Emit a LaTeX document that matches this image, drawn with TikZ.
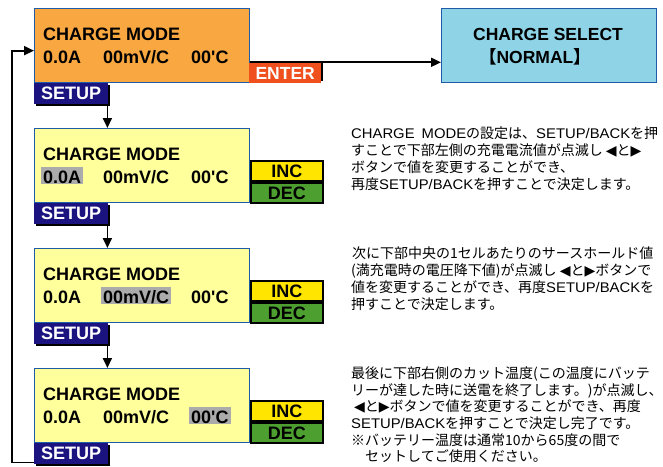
\documentclass[tikz,border=0pt]{standalone}
\usepackage{fontspec}
\setmainfont{Liberation Sans}[Ligatures=TeXOff]
\newfontfamily\jpfont{Noto Sans CJK JP}
\newfontfamily\latfont{Liberation Sans}[FakeStretch=1.06]
\newfontfamily\symfont{DejaVu Sans}
\usetikzlibrary{arrows.meta,calc,shadows}
\newcommand\Lt[1]{{\latfont #1}}
\newcommand\Tl{{\symfont\fontsize{14}{14}\selectfont ◀}}
\newcommand\Tr{{\symfont\fontsize{14}{14}\selectfont ▶}}
\definecolor{orangebox}{HTML}{F9A741}
\definecolor{yellowbox}{HTML}{FFFF9C}
\definecolor{bluebox}{HTML}{8ED3E6}
\definecolor{edgeblue}{HTML}{1F5CA8}
\definecolor{incyellow}{HTML}{FFE500}
\definecolor{decgreen}{HTML}{4DA02F}
\definecolor{navybox}{HTML}{1B1480}
\definecolor{enterred}{HTML}{F0501E}
\definecolor{hlgray}{HTML}{ABABAB}
\tikzset{
  lcd/.style={draw=edgeblue, line width=1.3pt, minimum width=215pt, minimum height=74pt, inner sep=0pt, anchor=north west},
  lbl/.style={font=\fontsize{18}{18}\selectfont\bfseries, anchor=base west, inner sep=0pt},
  hl/.style={lbl, fill=hlgray, inner xsep=2pt, inner ysep=0pt, text height=16pt, text depth=1pt},
  keybox/.style={draw=black, line width=1.6pt, minimum width=72pt, minimum height=20pt, inner sep=0pt, font=\fontsize{18}{18}\selectfont\bfseries, anchor=north west},
  setupbox/.style={fill=navybox, text=white, minimum width=74pt, minimum height=21pt, inner sep=0pt, font=\fontsize{18}{18}\selectfont\bfseries, anchor=north west, drop shadow={shadow xshift=2pt, shadow yshift=-2pt, fill=black, opacity=1}},
  enterbox/.style={fill=enterred, text=white, minimum width=72pt, minimum height=20pt, inner sep=0pt, font=\fontsize{17.5}{17.5}\selectfont\bfseries, anchor=north west, drop shadow={shadow xshift=2pt, shadow yshift=2pt, fill=black, opacity=1}},
  arr/.style={line width=1.8pt, -{Triangle[length=10pt,width=9pt]}},
  rt/.style={font=\jpfont\fontsize{14}{14}\selectfont, anchor=base west, inner sep=0pt},
}
\begin{document}
\begin{tikzpicture}[x=1pt,y=-1pt]
\useasboundingbox (0,0) rectangle (663,466);
% ---- Box 1 (orange)
\node[lcd, fill=orangebox] (b1) at (34,8) {};
\node[lbl] (b1t) at (43,40) {CHARGE MODE};
\node[lbl] (b1a) at (43,63) {0.0A};
\node[lbl] (b1v) at (103,63) {00mV/C};
\node[lbl] (b1c) at (191,63) {00'C};
\node[enterbox] (enter) at (249,63) {ENTER};
\node[setupbox] (s1) at (34,83) {SETUP};
% ---- Charge select
\node[lcd, fill=bluebox] (sel) at (441,8) {};
\node[font=\fontsize{17.5}{17.5}\selectfont\bfseries, anchor=base, inner sep=0pt] (selt) at (548,40) {CHARGE SELECT};
\node[font=\fontsize{17.5}{17.5}\selectfont\bfseries, anchor=base, inner sep=0pt] (seln) at (535,63) {{\jpfont 【}NORMAL{\jpfont 】}};
% ---- Box 2
\node[lcd, fill=yellowbox] (b2) at (34,128) {};
\node[lbl] (b2t) at (43,160) {CHARGE MODE};
\node[hl] (b2a) at (41,183) {0.0A};
\node[lbl] (b2v) at (103,183) {00mV/C};
\node[lbl] (b2c) at (191,183) {00'C};
\node[keybox, fill=incyellow] (inc2) at (250,160) {INC};
\node[keybox, fill=decgreen] (dec2) at (250,182) {DEC};
\node[setupbox] (s2) at (34,203) {SETUP};
% ---- Box 3
\node[lcd, fill=yellowbox] (b3) at (34,248) {};
\node[lbl] (b3t) at (43,280) {CHARGE MODE};
\node[lbl] (b3a) at (43,303) {0.0A};
\node[hl] (b3v) at (101,303) {00mV/C};
\node[lbl] (b3c) at (191,303) {00'C};
\node[keybox, fill=incyellow] (inc3) at (250,280) {INC};
\node[keybox, fill=decgreen] (dec3) at (250,302) {DEC};
\node[setupbox] (s3) at (34,323) {SETUP};
% ---- Box 4
\node[lcd, fill=yellowbox] (b4) at (34,368) {};
\node[lbl] (b4t) at (43,400) {CHARGE MODE};
\node[lbl] (b4a) at (43,423) {0.0A};
\node[lbl] (b4v) at (103,423) {00mV/C};
\node[hl] (b4c) at (189,423) {00'C};
\node[keybox, fill=incyellow] (inc4) at (250,400) {INC};
\node[keybox, fill=decgreen] (dec4) at (250,422) {DEC};
\node[setupbox] (s4) at (34,443) {SETUP};
% ---- connectors
\draw[arr] ($(b1.south east)+(0,-21)$) -- ($(sel.south west)+(0,-21)$);
\draw[arr] ($(s1.south east)+(-1,0)$) coordinate (d1) -- (d1 |- b2.north);
\draw[arr] ($(s2.south east)+(-1,0)$) coordinate (d2) -- (d2 |- b3.north);
\draw[arr] ($(s3.south east)+(-1,0)$) coordinate (d3) -- (d3 |- b4.north);
\draw[arr] ($(s4.south west)+(0,-2)$) -- ++(-22,0) |- ($(b1.west)+(0,5)$);
% ---- explanatory texts
\node[rt] (t11) at (351,138) {\Lt{CHARGE\hspace{7pt}MODE}の設定は、\Lt{SETUP/BACK}を押};
\node[rt] (t12) at (351,155) {すことで下部左側の充電電流値が点滅し \Tl{}と\Tr};
\node[rt] (t13) at (351,172) {ボタンで値を変更することができ、};
\node[rt] (t14) at (351,189) {再度\Lt{SETUP/BACK}を押すことで決定します。};
\node[rt] (t21) at (352,258) {次に下部中央の1セルあたりのサースホールド値};
\node[rt] (t22) at (351,275) {(満充電時の電圧降下値)が点滅し \Tl{}と\Tr{}ボタンで};
\node[rt] (t23) at (351,292) {値を変更することができ、再度\Lt{SETUP/BACK}を};
\node[rt] (t24) at (351,309) {押すことで決定します。};
\node[rt] (t31) at (351,378) {最後に下部右側のカット温度(この温度にバッテ};
\node[rt] (t32) at (351,395) {リーが達した時に送電を終了します。)が点滅し、};
\node[rt] (t33) at (354,411) {\Tl{}と\Tr{}ボタンで値を変更することができ、再度};
\node[rt] (t34) at (351,428) {\Lt{SETUP/BACK}を押すことで決定し完了です。};
\node[rt] (t35) at (351,445) {※バッテリー温度は通常10から65度の間で};
\node[rt] (t36) at (365,461) {セットしてご使用ください。};
\end{tikzpicture}
\end{document}
